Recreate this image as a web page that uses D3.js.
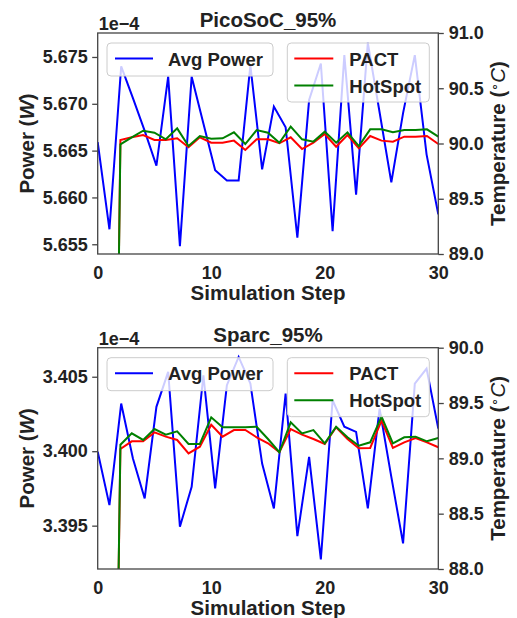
<!DOCTYPE html>
<html>
<head>
<meta charset="utf-8">
<script src="https://cdn.jsdelivr.net/npm/d3@7"></script>
<style>
  body { margin: 0; background: #fff; }
  svg text { font-family: "Liberation Sans", Arial, sans-serif; font-weight: bold; fill: #222; }
</style>
</head>
<body>
<div id="chart"></div>
<script>
// steps: power is sampled at 30 points over 0..30, temperature at each integer step
var powerSteps = [0, 1.034, 2.069, 3.103, 4.138, 5.172, 6.207, 7.241, 8.276, 9.310,
                  10.345, 11.379, 12.414, 13.448, 14.483, 15.517, 16.552, 17.586, 18.621, 19.655,
                  20.690, 21.724, 22.759, 23.793, 24.828, 25.862, 26.897, 27.931, 28.966, 30];
var tempSteps = [1, 2, 3, 4, 5, 6, 7, 8, 9, 10, 11, 12, 13, 14, 15,
                 16, 17, 18, 19, 20, 21, 22, 23, 24, 25, 26, 27, 28, 29, 30];

// PicoSoC (power in 1e-4 W)
var picoPower = [5.6659, 5.6566, 5.6740, 5.6706, 5.6671, 5.6634, 5.6729, 5.6548, 5.6729, 5.6679,
                 5.6629, 5.6618, 5.6618, 5.6741, 5.6630, 5.6697, 5.6675, 5.6557, 5.6704, 5.6743,
                 5.6564, 5.6752, 5.6603, 5.6765, 5.6691, 5.6616, 5.6690, 5.6752, 5.6646, 5.6582];
var picoPact = [82.0, 90.032, 90.056, 90.077, 90.032, 90.032, 90.047, 89.966, 90.056, 90.007,
                90.007, 90.026, 89.941, 90.038, 90.038, 90.002, 90.056, 89.950, 90.007, 90.086,
                89.971, 90.077, 89.956, 90.068, 90.026, 90.017, 90.062, 90.062, 90.068, 89.995];
var picoHotspot = [82.0, 89.993, 90.056, 90.116, 90.098, 90.038, 90.137, 89.977, 90.068, 90.044,
                   90.047, 90.101, 89.995, 90.122, 90.098, 90.007, 90.152, 90.038, 90.017, 90.107,
                   90.007, 90.101, 89.977, 90.128, 90.128, 90.101, 90.122, 90.122, 90.128, 90.062];

// Sparc (power in 1e-4 W)
var sparcPower = [3.39996, 3.39638, 3.40320, 3.39951, 3.39683, 3.40298, 3.40533, 3.39493, 3.39761, 3.40510,
                  3.39750, 3.40443, 3.40633, 3.40454, 3.39917, 3.39616, 3.40387, 3.39430, 3.39962, 3.39273,
                  3.40342, 3.40164, 3.40130, 3.39616, 3.40286, 3.39828, 3.39381, 3.40454, 3.40555, 3.40152];
var sparcPact = [82.0, 89.085, 89.154, 89.154, 89.235, 89.196, 89.166, 89.045, 89.105, 89.304,
                 89.196, 89.256, 89.256, 89.190, 89.136, 89.055, 89.265, 89.214, 89.175, 89.130,
                 89.281, 89.175, 89.091, 89.094, 89.340, 89.094, 89.145, 89.184, 89.145, 89.100];
var sparcHotspot = [82.0, 89.123, 89.226, 89.166, 89.265, 89.214, 89.244, 89.130, 89.130, 89.371,
                    89.281, 89.281, 89.281, 89.286, 89.175, 89.055, 89.326, 89.226, 89.256, 89.136,
                    89.286, 89.190, 89.114, 89.145, 89.377, 89.136, 89.190, 89.196, 89.154, 89.184];

// tick labels
var xTicks = [0, 10, 20, 30];
var picoPowerTicks = [5.655, 5.660, 5.665, 5.670, 5.675];
var picoTempTicks = [89.0, 89.5, 90.0, 90.5, 91.0];
var sparcPowerTicks = [3.395, 3.400, 3.405];
var sparcTempTicks = [88.0, 88.5, 89.0, 89.5, 90.0];

var seriesNames = ["Avg Power", "PACT", "HotSpot"];
var seriesColors = ["#0000ff", "#ff0000", "#008000"];

var W = 517, H = 618;
var left = 97.7, right = 438.3;

var svg = d3.select("#chart").append("svg")
    .attr("width", W)
    .attr("height", H);

function drawPanel(id, title, top, bottom, power, pact, hotspot, powerDomain, tempDomain, powerTicks, tempTicks) {
    var x = d3.scaleLinear().domain([0, 30]).range([left, right]);
    var yP = d3.scaleLinear().domain(powerDomain).range([bottom, top]);
    var yT = d3.scaleLinear().domain(tempDomain).range([bottom, top]);

    var g = svg.append("g");

    g.append("clipPath").attr("id", "clip" + id)
        .append("rect")
        .attr("x", left).attr("y", top)
        .attr("width", right - left).attr("height", bottom - top);

    var lines = g.append("g").attr("clip-path", "url(#clip" + id + ")");

    var powerLine = d3.line()
        .x(function (d, i) { return x(powerSteps[i]); })
        .y(function (d) { return yP(d); });
    var tempLine = d3.line()
        .x(function (d, i) { return x(tempSteps[i]); })
        .y(function (d) { return yT(d); });

    lines.append("path").datum(power)
        .attr("d", powerLine)
        .attr("fill", "none").attr("stroke", seriesColors[0]).attr("stroke-width", 2);
    lines.append("path").datum(pact)
        .attr("d", tempLine)
        .attr("fill", "none").attr("stroke", seriesColors[1]).attr("stroke-width", 2);
    lines.append("path").datum(hotspot)
        .attr("d", tempLine)
        .attr("fill", "none").attr("stroke", seriesColors[2]).attr("stroke-width", 2);

    // legends (semi transparent, drawn over the lines)
    var leg1 = g.append("g").attr("transform", "translate(" + (left + 9.3) + "," + (top + 10) + ")");
    leg1.append("rect")
        .attr("width", 166).attr("height", 33).attr("rx", 4)
        .attr("fill", "#fff").attr("fill-opacity", 0.8)
        .attr("stroke", "#cccccc").attr("stroke-width", 1);
    leg1.append("line")
        .attr("x1", 8).attr("x2", 46).attr("y1", 15.5).attr("y2", 15.5)
        .attr("stroke", seriesColors[0]).attr("stroke-width", 2);
    leg1.append("text").attr("x", 61).attr("y", 22.5)
        .style("font-size", "18.5px").text(seriesNames[0]);

    var leg2 = g.append("g").attr("transform", "translate(" + (left + 189.6) + "," + (top + 10) + ")");
    leg2.append("rect")
        .attr("width", 142).attr("height", 59).attr("rx", 4)
        .attr("fill", "#fff").attr("fill-opacity", 0.8)
        .attr("stroke", "#cccccc").attr("stroke-width", 1);
    [1, 2].forEach(function (k, j) {
        var yy = 15.5 + j * 27;
        leg2.append("line")
            .attr("x1", 7).attr("x2", 46).attr("y1", yy).attr("y2", yy)
            .attr("stroke", seriesColors[k]).attr("stroke-width", 2);
        leg2.append("text").attr("x", 62).attr("y", yy + 7)
            .style("font-size", "18.5px").text(seriesNames[k]);
    });

    // frame
    g.append("rect")
        .attr("x", left).attr("y", top)
        .attr("width", right - left).attr("height", bottom - top)
        .attr("fill", "none").attr("stroke", "#444").attr("stroke-width", 1.3);

    // axes
    var fmt3 = d3.format(".3f"), fmt1 = d3.format(".1f");

    var gx = g.append("g")
        .attr("transform", "translate(0," + bottom + ")")
        .call(d3.axisBottom(x).tickValues(xTicks).tickSize(0).tickPadding(12));
    var gl = g.append("g")
        .attr("transform", "translate(" + left + ",0)")
        .call(d3.axisLeft(yP).tickValues(powerTicks).tickFormat(fmt3).tickSize(5.5).tickPadding(4.5));
    var gr = g.append("g")
        .attr("transform", "translate(" + right + ",0)")
        .call(d3.axisRight(yT).tickValues(tempTicks).tickFormat(fmt1).tickSize(5.5).tickPadding(5));

    [gx, gl, gr].forEach(function (a) {
        a.select(".domain").remove();
        a.selectAll(".tick line").attr("stroke", "#444").attr("stroke-width", 1.3);
        a.selectAll(".tick text")
            .style("font-size", "18px")
            .style("font-family", "'Liberation Sans', Arial, sans-serif")
            .style("font-weight", "bold")
            .attr("fill", "#222");
    });

    // titles and labels
    g.append("text")
        .attr("x", (left + right) / 2).attr("y", top - 5.7)
        .attr("text-anchor", "middle")
        .style("font-size", "20.5px")
        .text(title);

    g.append("text")
        .attr("x", left + 1).attr("y", top - 3)
        .style("font-size", "18px")
        .text("1e\u22124");

    g.append("text")
        .attr("x", (left + right) / 2).attr("y", bottom + 46)
        .attr("text-anchor", "middle")
        .style("font-size", "20.5px")
        .text("Simulation Step");

    var yl = g.append("text")
        .attr("transform", "translate(34," + (top + bottom) / 2 + ") rotate(-90)")
        .attr("text-anchor", "middle")
        .style("font-size", "20.5px");
    yl.append("tspan").text("Power (");
    yl.append("tspan").style("font-style", "italic").text("W");
    yl.append("tspan").text(")");

    var yr = g.append("text")
        .attr("transform", "translate(505," + (top + bottom) / 2 + ") rotate(-90)")
        .attr("text-anchor", "middle")
        .style("font-size", "20.5px");
    yr.append("tspan").text("Temperature (");
    yr.append("tspan").attr("dy", -7).style("font-size", "13px").style("font-weight", "normal").text("\u2218");
    yr.append("tspan").attr("dy", 7).style("font-style", "italic").style("font-weight", "normal").text("C");
    yr.append("tspan").text(")");
}

drawPanel("a", "PicoSoC_95%", 33, 254, picoPower, picoPact, picoHotspot,
          [5.65396, 5.67756], [89, 91], picoPowerTicks, picoTempTicks);
drawPanel("b", "Sparc_95%", 347.7, 569, sparcPower, sparcPact, sparcHotspot,
          [3.39209, 3.40695], [88, 90], sparcPowerTicks, sparcTempTicks);
</script>
</body>
</html>
